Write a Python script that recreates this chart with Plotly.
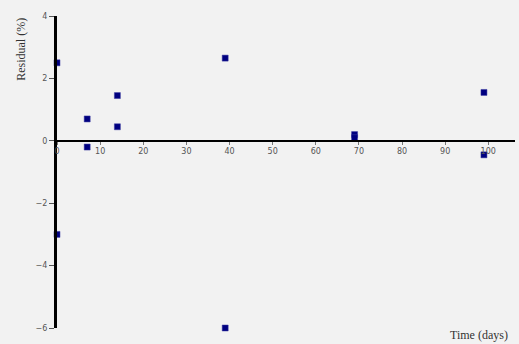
import plotly.graph_objects as go

# Residuals of the fit, by sampling day
time_days = [0, 0, 7, 7, 14, 14, 39, 39, 69, 69, 99, 99]
residual_pct = [2.5, -3.0, 0.7, -0.2, 1.45, 0.45, 2.65, -6.0, 0.2, 0.1, 1.55, -0.45]

x_ticks = [0, 10, 20, 30, 40, 50, 60, 70, 80, 90, 100]
y_ticks = [-6, -4, -2, 0, 2, 4]

x_range = [0, 106.2]
y_range = [-6, 4]

bg = "#f2f2f2"
tick_font = dict(family="DejaVu Sans", size=8, color="#555555")

fig = go.Figure(
    go.Scatter(
        x=time_days,
        y=residual_pct,
        mode="markers",
        marker=dict(symbol="square", size=6, color="#000080",
                    line=dict(color="#3a3aa0", width=0.5)),
        cliponaxis=False,
        hoverinfo="x+y",
    )
)

fig.update_layout(
    width=519,
    height=344,
    margin=dict(l=57, r=4, t=16, b=16),
    paper_bgcolor=bg,
    plot_bgcolor=bg,
    showlegend=False,
    xaxis=dict(
        range=x_range,
        tickvals=x_ticks,
        ticks="outside",
        ticklen=3,
        tickcolor="#777777",
        tickfont=tick_font,
        showgrid=False,
        zeroline=False,
        showline=True,
        linecolor="black",
        linewidth=2,
        anchor="free",
        position=(0 - y_range[0]) / (y_range[1] - y_range[0]),
    ),
    yaxis=dict(
        range=y_range,
        tickvals=y_ticks,
        ticks="outside",
        ticklen=5,
        tickcolor="#555555",
        tickfont=tick_font,
        showgrid=False,
        zeroline=False,
        showline=True,
        linecolor="black",
        linewidth=3,
    ),
    annotations=[
        dict(text="Residual (%)", textangle=-90, xref="paper", yref="paper",
             x=-0.08, y=1.0, xanchor="center", yanchor="top", showarrow=False,
             font=dict(family="Liberation Serif", size=12, color="#333333")),
        dict(text="Time (days)", xref="paper", yref="paper",
             x=0.99, y=-0.024, xanchor="right", yanchor="middle", showarrow=False,
             font=dict(family="Liberation Serif", size=12, color="#333333")),
    ],
)

fig.write_html("out.html")
